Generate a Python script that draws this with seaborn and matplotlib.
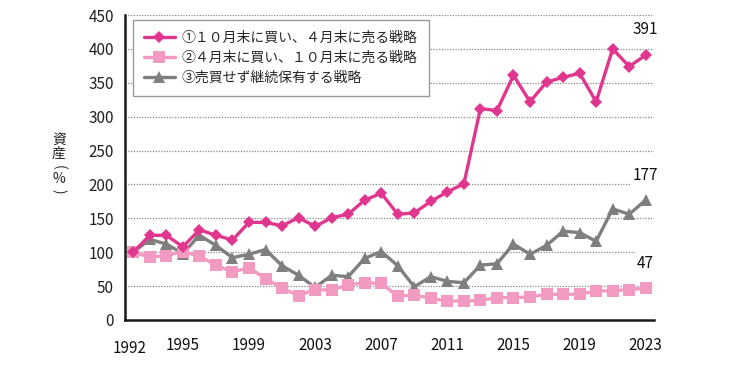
import numpy as np
import pandas as pd
import matplotlib
matplotlib.use("Agg")
import matplotlib.pyplot as plt
import matplotlib.transforms as mtransforms
import seaborn as sns
from matplotlib.lines import Line2D

years = list(range(1992, 2024))
s1_name = "①１０月末に買い、４月末に売る戦略"
s2_name = "②４月末に買い、１０月末に売る戦略"
s3_name = "③売買せず継続保有する戦略"
s1 = [100, 125, 125, 108, 133, 125, 118, 144, 144, 139, 151, 138, 151, 156, 177, 187,
      156, 158, 175, 189, 201, 312, 309, 361, 322, 351, 358, 364, 322, 400, 374, 391]
s2 = [100, 93, 95, 101, 94, 81, 71, 77, 61, 47, 36, 45, 44, 52, 55, 54,
      35, 37, 32, 28, 28, 29, 33, 33, 34, 38, 38, 38, 43, 43, 45, 47]
s3 = [100, 119, 112, 98, 125, 110, 92, 97, 104, 80, 66, 48, 66, 64, 91, 101,
      80, 49, 64, 57, 55, 81, 83, 112, 97, 110, 131, 129, 116, 164, 156, 177]
xtick_years = [1992, 1995, 1999, 2003, 2007, 2011, 2015, 2019, 2023]
yticks = [0, 50, 100, 150, 200, 250, 300, 350, 400, 450]
end_labels = ["391", "177", "47"]
ylabel_chars = ["資", "産", "(", "%", ")"]

names = [s1_name, s2_name, s3_name]
colors = ["#E0368E", "#F29AC2", "#7F7F7F"]
markers = ["D", "s", "^"]
msizes = [6.5, 8, 8.5]

df = pd.DataFrame({
    "year": years * 3,
    "value": s1 + s2 + s3,
    "series": [s1_name] * len(years) + [s2_name] * len(years) + [s3_name] * len(years),
})

sns.set_style("white")
plt.rcParams["font.family"] = ["Noto Sans CJK JP", "DejaVu Sans"]

fig = plt.figure(figsize=(7.5, 3.69), dpi=100)
ax = fig.add_axes([125 / 750, 1 - 320 / 369, (654 - 125) / 750, (320 - 15) / 369])

for name, col, mk, ms, z in [(s3_name, colors[2], markers[2], msizes[2], 3),
                              (s2_name, colors[1], markers[1], msizes[1], 4),
                              (s1_name, colors[0], markers[0], msizes[0], 5)]:
    sns.lineplot(data=df[df["series"] == name], x="year", y="value", ax=ax,
                 color=col, marker=mk, markersize=ms, markeredgewidth=0,
                 linewidth=2.4, legend=False, zorder=z)

ax.set_xlim(1991.5, 2023.5)
ax.set_ylim(0, 450)
ax.set_yticks(yticks)
ax.set_yticklabels([str(v) for v in yticks], fontsize=11, color="#222222")
ax.set_xticks(xtick_years)
ax.set_xticklabels([str(y) for y in xtick_years], fontsize=11, color="#111111")
ax.set_xticks(np.arange(1991.5, 2024.0, 1.0), minor=True)
ax.tick_params(axis="x", which="major", length=0, pad=12)
ax.tick_params(axis="x", which="minor", length=5, width=0.9, color="#333333", direction="out")
ax.tick_params(axis="y", which="major", length=4, width=0.9, color="#555555", direction="out", pad=4)
ax.set_xlabel("")
ax.set_ylabel("")

lbl0 = ax.get_xticklabels()[0]
lbl0.set_transform(lbl0.get_transform() + mtransforms.ScaledTranslation(-4 / 100, -3 / 100, fig.dpi_scale_trans))

for v in yticks[1:]:
    ax.axhline(v, color="#888888", linestyle=(0, (1, 1.2)), linewidth=0.9, zorder=1)

for side in ["top", "right"]:
    ax.spines[side].set_visible(False)
for side in ["left", "bottom"]:
    ax.spines[side].set_color("#1a1a1a")
    ax.spines[side].set_linewidth(1.8)
    ax.spines[side].set_zorder(6)

for vals, lab in zip([s1, s3, s2], end_labels):
    ax.annotate(lab, xy=(years[-1], vals[-1]), xytext=(0, 18), textcoords="offset points",
                ha="center", va="center", fontsize=11, color="#111111", zorder=7,
                bbox=dict(boxstyle="square,pad=0.15", fc="white", ec="none"))

handles = [Line2D([], [], color=c, marker=m, markersize=ms, markeredgewidth=0, linewidth=2.4)
           for c, m, ms in zip(colors, markers, msizes)]
leg = ax.legend(handles, names, loc="upper left", bbox_to_anchor=(0.015, 0.985),
                borderaxespad=0, fontsize=10, frameon=True, fancybox=False,
                handlelength=2.2, handletextpad=0.5, labelspacing=0.45,
                borderpad=0.8, edgecolor="#999999", framealpha=1)
leg.get_frame().set_linewidth(1.0)
leg.set_zorder(10)

# vertical y label (stacked characters, parentheses turned)
ypix = [141, 154, 167, 179, 191]
rots = [0, 0, -90, 0, -90]
for ch, yp, rot in zip(ylabel_chars, ypix, rots):
    fig.text(59 / 750, 1 - yp / 369, ch, ha="center", va="center", rotation=rot,
             rotation_mode="anchor", fontsize=10, color="#222222")

fig.savefig("out.png", dpi=100)
